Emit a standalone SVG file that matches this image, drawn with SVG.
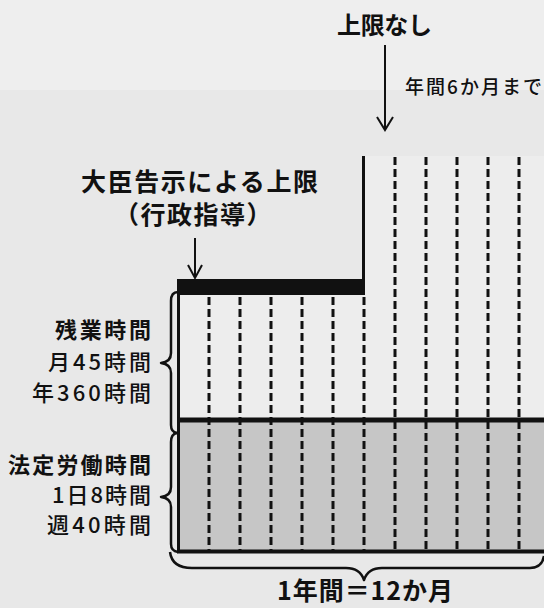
<svg xmlns="http://www.w3.org/2000/svg" width="544" height="608" viewBox="0 0 544 608">
<defs>
<style>
text{font-family:"Noto Sans CJK JP","Noto Sans CJK SC",sans-serif;fill:#111}
.b{font-weight:bold}
.m{font-weight:500}
.dash{stroke:#111;stroke-width:3;stroke-dasharray:8 4;fill:none}
.ln{stroke:#111;fill:none}
.brace{stroke:#111;stroke-width:2.5;fill:none;stroke-linejoin:round}
.arr{stroke:#111;stroke-width:2;fill:none}
</style>
</defs>
<rect width="544" height="608" fill="#e8e8e8"/>
<rect width="544" height="90" fill="#eeeeee"/>

<g id="chart">
<rect x="364" y="156" width="180" height="140" fill="#ededed"/>
<rect x="178" y="295" width="366" height="124" fill="#ededed"/>
<rect x="178" y="421" width="366" height="130" fill="#c6c6c6"/>
<g id="months">
<line class="dash" x1="209" y1="297" x2="209" y2="550"/>
<line class="dash" x1="240" y1="297" x2="240" y2="550"/>
<line class="dash" x1="271" y1="297" x2="271" y2="550"/>
<line class="dash" x1="302" y1="297" x2="302" y2="550"/>
<line class="dash" x1="333" y1="297" x2="333" y2="550"/>
<line class="dash" x1="364" y1="297" x2="364" y2="550"/>
<line class="dash" x1="395" y1="157" x2="395" y2="550"/>
<line class="dash" x1="426" y1="157" x2="426" y2="550"/>
<line class="dash" x1="457" y1="157" x2="457" y2="550"/>
<line class="dash" x1="488" y1="157" x2="488" y2="550"/>
<line class="dash" x1="519" y1="157" x2="519" y2="550"/>
</g>
<rect id="limit-bar" x="177" y="279" width="188" height="16" fill="#111"/>
<line class="ln" x1="363.5" y1="156" x2="363.5" y2="280" stroke-width="3"/>
<line class="ln" x1="178.5" y1="279" x2="178.5" y2="553" stroke-width="3"/>
<line class="ln" x1="177" y1="420" x2="544" y2="420" stroke-width="5"/>
<line class="ln" x1="177" y1="551.5" x2="544" y2="551.5" stroke-width="4"/>
</g>

<g id="braces">
<path class="brace" d="M178,292 Q171,292 171,301 L171,353 Q171,362 161,363 Q171,364 171,373 L171,425 Q171,432 177,433"/>
<path class="brace" d="M177,433 Q171,434 171,442 L171,487 Q171,496 161,497 Q171,498 171,507 L171,544 Q171,551 178,552"/>
<path class="brace" d="M170,552 Q172,568 192,568 L346,568 Q360,568 364,580 Q368,568 382,568 L530,568 Q542,568 544,556"/>
</g>

<g id="connectors">
<line class="arr" x1="385" y1="45" x2="385" y2="130"/>
<polyline class="arr" points="377,117 385,130 393,117"/>
<line class="arr" x1="195" y1="238" x2="195" y2="278"/>
<polyline class="arr" points="188,265 195,278 202,265"/>
</g>

<g id="node-nolimit">
<text class="b" x="337" y="34" font-size="24" textLength="95">上限なし</text>
<text class="m" x="405" y="94" font-size="19" textLength="137">年間6か月まで</text>
</g>

<g id="node-minister">
<text class="b" x="81" y="191" font-size="25" textLength="237">大臣告示による上限</text>
<text class="b" x="114" y="224" font-size="25" letter-spacing="1.5">（行政指導）</text>
</g>

<g id="node-overtime">
<text class="b" x="151" y="338" font-size="22" text-anchor="end" textLength="96">残業時間</text>
<text class="m" x="151" y="370" font-size="22" text-anchor="end" textLength="103">月45時間</text>
<text class="m" x="151" y="401" font-size="22" text-anchor="end" textLength="119">年360時間</text>
</g>

<g id="node-legal">
<text class="b" x="151" y="473" font-size="22" text-anchor="end" textLength="143">法定労働時間</text>
<text class="m" x="151" y="503" font-size="22" text-anchor="end" textLength="99">1日8時間</text>
<text class="m" x="151" y="533" font-size="22" text-anchor="end" textLength="104">週40時間</text>
</g>

<g id="node-year">
<text class="b" x="277" y="600" font-size="25" textLength="176">1年間＝12か月</text>
</g>
</svg>
